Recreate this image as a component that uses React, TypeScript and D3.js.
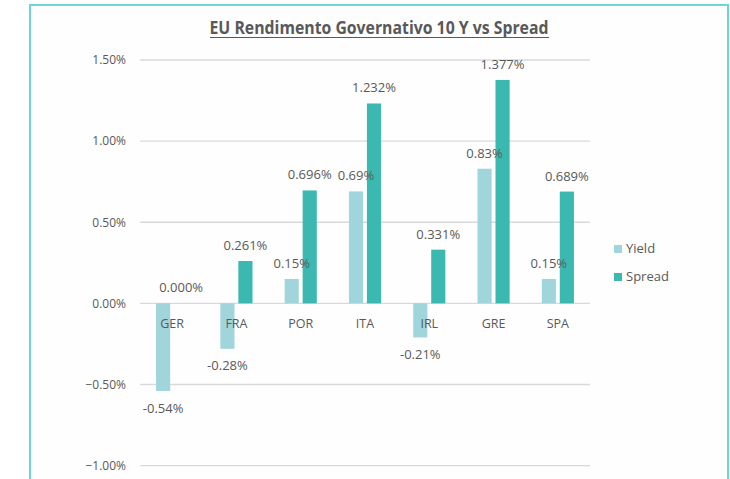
import React from "react";
import * as d3 from "d3";

const categories = ["GER", "FRA", "POR", "ITA", "IRL", "GRE", "SPA"];
const yieldValues = [-0.54, -0.28, 0.15, 0.69, -0.21, 0.83, 0.15];
const spreadValues = [0.0, 0.261, 0.696, 1.232, 0.331, 1.377, 0.689];
const yieldLabels = ["-0.54%", "-0.28%", "0.15%", "0.69%", "-0.21%", "0.83%", "0.15%"];
const spreadLabels = ["0.000%", "0.261%", "0.696%", "1.232%", "0.331%", "1.377%", "0.689%"];
const yTicks = [-1.0, -0.5, 0, 0.5, 1.0, 1.5];
const seriesNames = ["Yield", "Spread"];

const W = 730;
const H = 479;
const colors = ["#a0d5dc", "#3bb9b1"];
const textColor = "#595959";
const font = "'Open Sans', 'Liberation Sans', sans-serif";

export default function App() {
  const x = d3.scaleBand<string>().domain(categories).range([140, 590]);
  const y = d3.scaleLinear().domain([-1, 1.5]).range([465.6, 60]);
  const bw = x.bandwidth() * 0.22;
  const gap = x.bandwidth() * 0.06;
  const series = [yieldValues, spreadValues];
  const labels = [yieldLabels, spreadLabels];
  const fmt = d3.format(".2f");

  return (
    <svg
      width={W}
      height={H}
      style={{ position: "absolute", left: 0, top: 0, background: "#fff" }}
      fontFamily={font}
    >
      <rect x={0} y={0} width={W} height={H} fill="#fff" />
      <rect x={30} y={5} width={698} height={500} fill="#fefefe" stroke="#6dd5d7" strokeWidth={2} />
      <text
        x={379}
        y={34}
        textAnchor="middle"
        fontSize={18}
        fontWeight="bold"
        fill={textColor}
        textLength={339}
        lengthAdjust="spacingAndGlyphs"
      >
        EU Rendimento Governativo 10 Y vs Spread
      </text>
      <line x1={210} x2={549} y1={37.5} y2={37.5} stroke={textColor} strokeWidth={1.2} />
      {yTicks.map((t) => (
        <g key={t}>
          <line x1={140} x2={590} y1={y(t)} y2={y(t)} stroke="#d9d9d9" strokeWidth={1.3} />
          <text x={126} y={y(t) + 4.3} textAnchor="end" fontSize={12} fill={textColor}>
            {fmt(t) + "%"}
          </text>
        </g>
      ))}
      {series.map((vals, si) =>
        vals.map((v, i) => {
          const cx = (x(categories[i]) as number) + x.bandwidth() / 2;
          const bx = si === 0 ? cx - gap / 2 - bw : cx + gap / 2;
          const top = y(Math.max(0, v));
          const bot = y(Math.min(0, v));
          return (
            <rect key={si + "-" + i} x={bx} y={top} width={bw} height={bot - top} fill={colors[si]} />
          );
        })
      )}
      {categories.map((c) => (
        <text
          key={c}
          x={(x(c) as number) + x.bandwidth() / 2}
          y={327.5}
          textAnchor="middle"
          fontSize={12.5}
          fill={textColor}
        >
          {c}
        </text>
      ))}
      {series.map((vals, si) =>
        vals.map((v, i) => {
          const cx = (x(categories[i]) as number) + x.bandwidth() / 2;
          const lx = si === 0 ? cx - gap / 2 - bw / 2 : cx + gap / 2 + bw / 2;
          const ly = v >= 0 ? y(v) - 11 : y(v) + 21.7;
          return (
            <text key={"l" + si + "-" + i} x={lx} y={ly} textAnchor="middle" fontSize={13} fill={textColor}>
              {labels[si][i]}
            </text>
          );
        })
      )}
      {seriesNames.map((n, i) => (
        <g key={n}>
          <rect x={614} y={245 + i * 28} width={8} height={8} fill={colors[i]} />
          <text x={626} y={253 + i * 28} fontSize={13} fill={textColor}>
            {n}
          </text>
        </g>
      ))}
    </svg>
  );
}
